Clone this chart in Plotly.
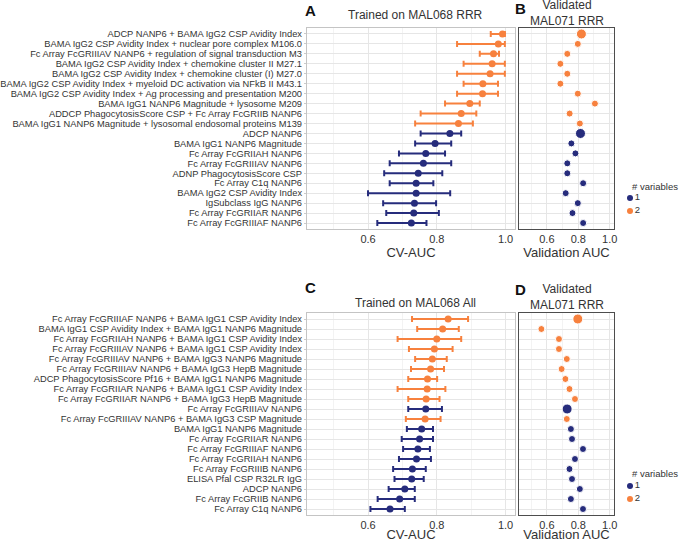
import plotly.graph_objects as go

W, H = 679, 542

# ---------------- Data: top (trained on MAL068 RRR) ----------------
a_labels = [
    "ADCP NANP6 + BAMA IgG2 CSP Avidity Index",
    "BAMA IgG2 CSP Avidity Index + nuclear pore complex M106.0",
    "Fc Array FcGRIIIAV NANP6 + regulation of signal transduction M3",
    "BAMA IgG2 CSP Avidity Index + chemokine cluster II M27.1",
    "BAMA IgG2 CSP Avidity Index + chemokine cluster (I) M27.0",
    "BAMA IgG2 CSP Avidity Index + myeloid DC activation via NFkB II M43.1",
    "BAMA IgG2 CSP Avidity Index + Ag processing and presentation M200",
    "BAMA IgG1 NANP6 Magnitude + lysosome M209",
    "ADDCP PhagocytosisScore CSP + Fc Array FcGRIIB NANP6",
    "BAMA IgG1 NANP6 Magnitude + lysosomal endosomal proteins M139",
    "ADCP NANP6",
    "BAMA IgG1 NANP6 Magnitude",
    "Fc Array FcGRIIAH NANP6",
    "Fc Array FcGRIIIAV NANP6",
    "ADNP PhagocytosisScore CSP",
    "Fc Array C1q NANP6",
    "BAMA IgG2 CSP Avidity Index",
    "IgSubclass IgG NANP6",
    "Fc Array FcGRIIAR NANP6",
    "Fc Array FcGRIIIAF NANP6",
]
a_cv = [0.991, 0.979, 0.965, 0.961, 0.955, 0.934, 0.933, 0.896, 0.871, 0.863,
        0.838, 0.795, 0.768, 0.761, 0.746, 0.740, 0.740, 0.735, 0.733, 0.726]
a_lo = [0.957, 0.859, 0.925, 0.878, 0.859, 0.878, 0.859, 0.824, 0.753, 0.737,
        0.753, 0.737, 0.690, 0.663, 0.647, 0.663, 0.600, 0.644, 0.653, 0.627]
a_hi = [0.998, 0.998, 0.981, 0.998, 0.998, 0.978, 0.978, 0.925, 0.915, 0.905,
        0.871, 0.842, 0.824, 0.842, 0.816, 0.790, 0.839, 0.798, 0.806, 0.770]
b_val = [0.820, 0.797, 0.730, 0.686, 0.730, 0.686, 0.797, 0.906, 0.745, 0.810,
         0.814, 0.756, 0.782, 0.730, 0.730, 0.831, 0.720, 0.797, 0.763, 0.831]

# ---------------- Data: bottom (trained on MAL068 All) ----------------
c_labels = [
    "Fc Array FcGRIIIAF NANP6 + BAMA IgG1 CSP Avidity Index",
    "BAMA IgG1 CSP Avidity Index + BAMA IgG1 NANP6 Magnitude",
    "Fc Array FcGRIIAH NANP6 + BAMA IgG1 CSP Avidity Index",
    "Fc Array FcGRIIIAV NANP6 + BAMA IgG1 CSP Avidity Index",
    "Fc Array FcGRIIIAV NANP6 + BAMA IgG3 NANP6 Magnitude",
    "Fc Array FcGRIIIAV NANP6 + BAMA IgG3 HepB Magnitude",
    "ADCP PhagocytosisScore Pf16 + BAMA IgG1 NANP6 Magnitude",
    "Fc Array FcGRIIAR NANP6 + BAMA IgG1 CSP Avidity Index",
    "Fc Array FcGRIIAR NANP6 + BAMA IgG3 HepB Magnitude",
    "Fc Array FcGRIIIAV NANP6",
    "Fc Array FcGRIIIAV NANP6 + BAMA IgG3 CSP Magnitude",
    "BAMA IgG1 NANP6 Magnitude",
    "Fc Array FcGRIIAR NANP6",
    "Fc Array FcGRIIIAF NANP6",
    "Fc Array FcGRIIAH NANP6",
    "Fc Array FcGRIIIB NANP6",
    "ELISA Pfal CSP R32LR IgG",
    "ADCP NANP6",
    "Fc Array FcGRIIB NANP6",
    "Fc Array C1q NANP6",
]
c_cv = [0.833, 0.817, 0.800, 0.793, 0.787, 0.782, 0.773, 0.772, 0.769, 0.768,
        0.766, 0.756, 0.750, 0.745, 0.741, 0.729, 0.727, 0.707, 0.692, 0.664]
c_lo = [0.728, 0.743, 0.686, 0.719, 0.737, 0.725, 0.717, 0.686, 0.717, 0.717,
        0.710, 0.713, 0.698, 0.702, 0.690, 0.673, 0.677, 0.660, 0.628, 0.607]
c_hi = [0.891, 0.864, 0.871, 0.846, 0.829, 0.821, 0.801, 0.825, 0.808, 0.815,
        0.811, 0.789, 0.789, 0.780, 0.783, 0.768, 0.762, 0.736, 0.736, 0.707]
d_val = [0.797, 0.565, 0.677, 0.677, 0.727, 0.694, 0.718, 0.744, 0.779, 0.729,
         0.727, 0.753, 0.760, 0.830, 0.779, 0.744, 0.760, 0.810, 0.753, 0.830]

x_ticks = [0.6, 0.8, 1.0]
x_tick_labels = ["0.6", "0.8", "1.0"]
x_minor = [0.5, 0.7, 0.9]
x_range = [0.4225, 1.0275]

legend_title = "# variables"
legend_levels = [1, 2]

COL = {1: "#262C7C", 2: "#F7813E"}
TXT = "#333333"
FONT = "Liberation Sans, Arial, sans-serif"


def nvars(labels):
    return [2 if " + " in l else 1 for l in labels]


def best_flags(labels):
    nv = nvars(labels)
    seen = set()
    out = []
    for n in nv:
        out.append(n not in seen)
        seen.add(n)
    return out


def px(x0, x1):
    return [x0 / W, x1 / W]


def py(y0, y1):
    return [1 - y1 / H, 1 - y0 / H]


fig = go.Figure()


def add_panel(labels, cv, lo, hi, val, xa, ya, xb, yb, xl, yl):
    nv = nvars(labels)
    best = best_flags(labels)
    for n in (1, 2):
        idx = [i for i in range(len(labels)) if nv[i] == n]
        fig.add_trace(go.Scatter(
            x=[cv[i] for i in idx], y=[labels[i] for i in idx],
            mode="markers", xaxis=xa, yaxis=ya, showlegend=False,
            marker=dict(color=COL[n], size=7, opacity=1),
            error_x=dict(type="data", symmetric=False,
                         array=[hi[i] - cv[i] for i in idx],
                         arrayminus=[cv[i] - lo[i] for i in idx],
                         color=COL[n], thickness=2, width=3),
            hoverinfo="x+y",
        ))
        fig.add_trace(go.Scatter(
            x=[val[i] for i in idx], y=[labels[i] for i in idx],
            mode="markers", xaxis=xb, yaxis=yb, showlegend=False,
            marker=dict(color=COL[n], opacity=1,
                        size=[10 if best[i] else 7 for i in idx]),
            hoverinfo="x+y",
        ))
    # legend keys
    fig.add_trace(go.Scatter(
        x=[0] * len(legend_levels), y=list(range(len(legend_levels))),
        mode="markers+text", xaxis=xl, yaxis=yl, showlegend=False,
        text=[str(v) for v in legend_levels], textposition="middle right",
        textfont=dict(size=9.5, color=TXT, family=FONT),
        marker=dict(color=[COL[v] for v in legend_levels], size=6),
        cliponaxis=False, hoverinfo="skip",
    ))


add_panel(a_labels, a_cv, a_lo, a_hi, b_val, "x", "y", "x2", "y2", "x5", "y5")
add_panel(c_labels, c_cv, c_lo, c_hi, d_val, "x3", "y3", "x4", "y4", "x6", "y6")


def xaxis(dom, anchor, title, border):
    return dict(
        domain=dom, anchor=anchor, range=x_range, tickmode="array",
        tickvals=x_ticks, ticktext=x_tick_labels, automargin=False,
        showgrid=True, gridcolor="#e6e6e6", gridwidth=1,
        minor=dict(tickvals=x_minor, showgrid=True, gridcolor="#f3f3f3", gridwidth=1),
        zeroline=False, showline=True, linecolor=border, linewidth=1.2, mirror=True,
        ticks="", ticklen=0,
        tickfont=dict(size=11, color=TXT, family=FONT),
        title=dict(text=title, font=dict(size=13, color=TXT, family=FONT), standoff=2),
    )


def yaxis(dom, anchor, labels, show, border):
    return dict(
        domain=dom, anchor=anchor, type="category", categoryorder="array",
        categoryarray=labels, range=[len(labels) - 0.4, -0.6],
        tickmode="array", tickvals=labels, ticktext=labels, automargin=False,
        showgrid=True, gridcolor="#e6e6e6", gridwidth=1, zeroline=False,
        showline=True, linecolor=border, linewidth=1.2, mirror=True,
        showticklabels=show, ticks="outside" if show else "", ticklen=2,
        tickcolor="#cccccc",
        tickfont=dict(size=9.3, color=TXT, family=FONT),
    )


def hidden(dom, anchor, rng):
    return dict(domain=dom, anchor=anchor, range=rng, visible=False,
                fixedrange=True, automargin=False)


LA = "#c4c4c4"
LB = "#4d4d4d"

fig.update_layout(
    width=W, height=H,
    margin=dict(l=0, r=0, t=0, b=0),
    paper_bgcolor="white", plot_bgcolor="white",
    font=dict(family=FONT, color=TXT),
    showlegend=False,
    xaxis=xaxis(px(307, 515), "y", "CV-AUC", LA),
    yaxis=yaxis(py(28, 229), "x", a_labels, True, LA),
    xaxis2=xaxis(px(519, 614), "y2", "Validation AUC", LB),
    yaxis2=yaxis(py(28, 229), "x2", a_labels, False, LB),
    xaxis3=xaxis(px(307, 515), "y3", "CV-AUC", LA),
    yaxis3=yaxis(py(313, 515), "x3", c_labels, True, LA),
    xaxis4=xaxis(px(519, 614), "y4", "Validation AUC", LB),
    yaxis4=yaxis(py(313, 515), "x4", c_labels, False, LB),
    xaxis5=hidden(px(630, 670), "y5", [0, 1]),
    yaxis5=hidden(py(191.5, 217.5), "x5", [1.5, -0.5]),
    xaxis6=hidden(px(630, 670), "y6", [0, 1]),
    yaxis6=hidden(py(479.5, 505.5), "x6", [1.5, -0.5]),
)

anns = [
    ("<b>A</b>", 310, 11, 15, "center", "#111111"),
    ("<b>B</b>", 520, 9, 15, "center", "#111111"),
    ("<b>C</b>", 310, 287, 15, "center", "#111111"),
    ("<b>D</b>", 520, 289, 15, "center", "#111111"),
    ("Trained on MAL068 RRR", 415, 15, 12, "center", TXT),
    ("Validated<br>MAL071 RRR", 567, 13, 12, "center", TXT),
    ("Trained on MAL068 All", 415, 303, 12, "center", TXT),
    ("Validated<br>MAL071 RRR", 567, 297, 12, "center", TXT),
    (legend_title, 630, 186, 9.5, "left", TXT),
    (legend_title, 630, 473, 9.5, "left", TXT),
]
for text, x, y, size, xa, col in anns:
    fig.add_annotation(
        text=text, x=x / W, y=1 - y / H, xref="paper", yref="paper",
        xanchor=xa, yanchor="middle", showarrow=False,
        font=dict(size=size, color=col, family=FONT),
    )

# remove the browser's default 8px body margin so the figure fills the window
fig.write_html(
    "out.html",
    config={"displayModeBar": False},
    post_script="document.body.style.margin='0';document.body.style.overflow='hidden';",
)
